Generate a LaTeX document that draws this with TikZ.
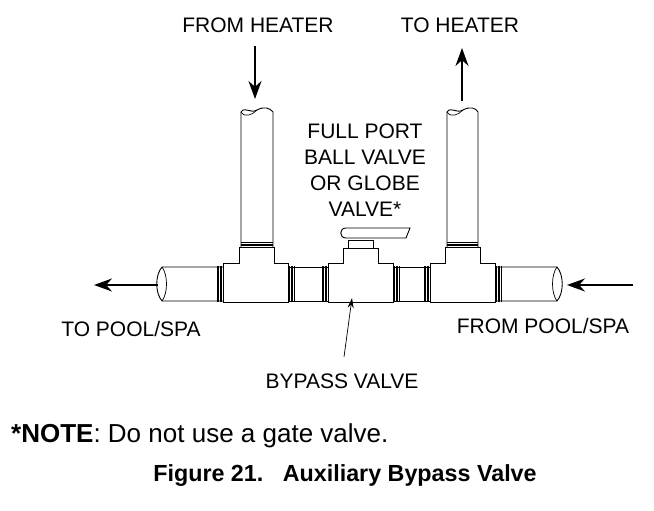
\documentclass[tikz,border=0pt]{standalone}
\usepackage{fontspec}
\setmainfont{Liberation Sans}
\usetikzlibrary{arrows.meta}
\begin{document}
\begin{tikzpicture}[x=1pt,y=-1pt,
  lbl/.style={font=\fontsize{21}{25}\selectfont,inner sep=0pt},
  pipe/.style={draw=black,line width=0.9pt,fill=white},
  flow/.style={line width=1.4pt,-{Stealth[length=18pt,width=13pt]}},
  thr/.style={line width=0.5pt}]
\useasboundingbox (0,0) rectangle (654,511);
% vertical pipes
\draw[pipe] (241,247) -- (241,112) .. controls (245,106) and (250,114) .. (257,110) .. controls (264,106) and (270,108) .. (273,112) -- (273,247);
\draw[line width=0.7pt] (241,112) .. controls (245,118) and (252,115) .. (257,110);
\draw[pipe] (447,247) -- (447,112) .. controls (451,106) and (456,114) .. (463,110) .. controls (470,106) and (476,108) .. (478,112) -- (478,247);
\draw[line width=0.7pt] (447,112) .. controls (451,118) and (458,115) .. (463,110);
% horizontal pipes
\draw[pipe] (223,267) -- (162,267) .. controls (155,275) and (155,293) .. (162,301) -- (223,301);
\draw[line width=0.7pt] (162,267) .. controls (168,275) and (168,293) .. (162,301);
\draw[pipe] (495,267) -- (557,267) .. controls (564,275) and (564,293) .. (557,301) -- (495,301);
\draw[line width=0.7pt] (557,267) .. controls (551,275) and (551,293) .. (557,301);
\draw[pipe] (288,267) rectangle (328,301);
\draw[pipe] (393,267) rectangle (430,301);
% tees
\foreach \a/\b/\c/\d in {223/288/239/274, 430/495/445/480}{
  \draw[pipe] (\a,263) -- (\c,263) -- (\c,247) -- (\d,247) -- (\d,263) -- (\b,263) -- (\b,302) -- (\a,302) -- cycle;
}
% threads
\foreach \x in {223,288,328,393,430,495}{
  \foreach \k in {1,2,3,4}{
    \draw[thr] ({\x+(\x==223||\x==328||\x==430 ? -1.5*\k : 1.5*\k)},266) -- ++(0,36);
  }
}
\foreach \k in {1,2,3}{
  \draw[thr] (241,{247-1.5*\k}) -- (273,{247-1.5*\k});
  \draw[thr] (447,{247-1.5*\k}) -- (478,{247-1.5*\k});
}
% valve
\draw[pipe] (328,263) -- (343,263) -- (343,248) -- (378,248) -- (378,263) -- (393,263) -- (393,302) -- (328,302) -- cycle;
\draw[pipe] (348,240) rectangle (373,248);
\draw[pipe] (346,228) -- (410,228) -- (406,238) -- (346,238) .. controls (339,238) and (339,228) .. (346,228);
% arrows
\coordinate (fh1) at (255,46); \coordinate (fh2) at (255,99);
\coordinate (th1) at (462,101); \coordinate (th2) at (462,48);
\coordinate (tp1) at (158,285); \coordinate (tp2) at (94,285);
\coordinate (fp1) at (633,285); \coordinate (fp2) at (567,285);
\coordinate (bv1) at (344,357); \coordinate (bv2) at (352,298);
\draw[flow] (fh1) -- (fh2);
\draw[flow] (th1) -- (th2);
\draw[flow] (tp1) -- (tp2);
\draw[flow] (fp1) -- (fp2);
\draw[line width=0.7pt,-{Stealth[length=10pt,width=6pt]}] (bv1) -- (bv2);
% labels
\node[lbl] (a) at (258,25) {FROM HEATER};
\node[lbl] (b) at (460,25) {TO HEATER};
\node[lbl,align=center,font=\fontsize{21}{26}\selectfont] (c) at (365,170) {FULL PORT\\BALL VALVE\\OR GLOBE\\VALVE*};
\node[lbl] (d) at (131,329) {TO POOL/SPA};
\node[lbl] (e) at (543,326) {FROM POOL/SPA};
\node[lbl] (f) at (342,381) {BYPASS VALVE};
\node[lbl,anchor=west,font=\fontsize{26}{30}\selectfont] (g) at (11,436) {\textbf{*NOTE}: Do not use a gate valve.};
\node[lbl,font=\bfseries\fontsize{23.3}{27}\selectfont] (h) at (345,476) {Figure 21.\ \ \ Auxiliary Bypass Valve};
\end{tikzpicture}
\end{document}
